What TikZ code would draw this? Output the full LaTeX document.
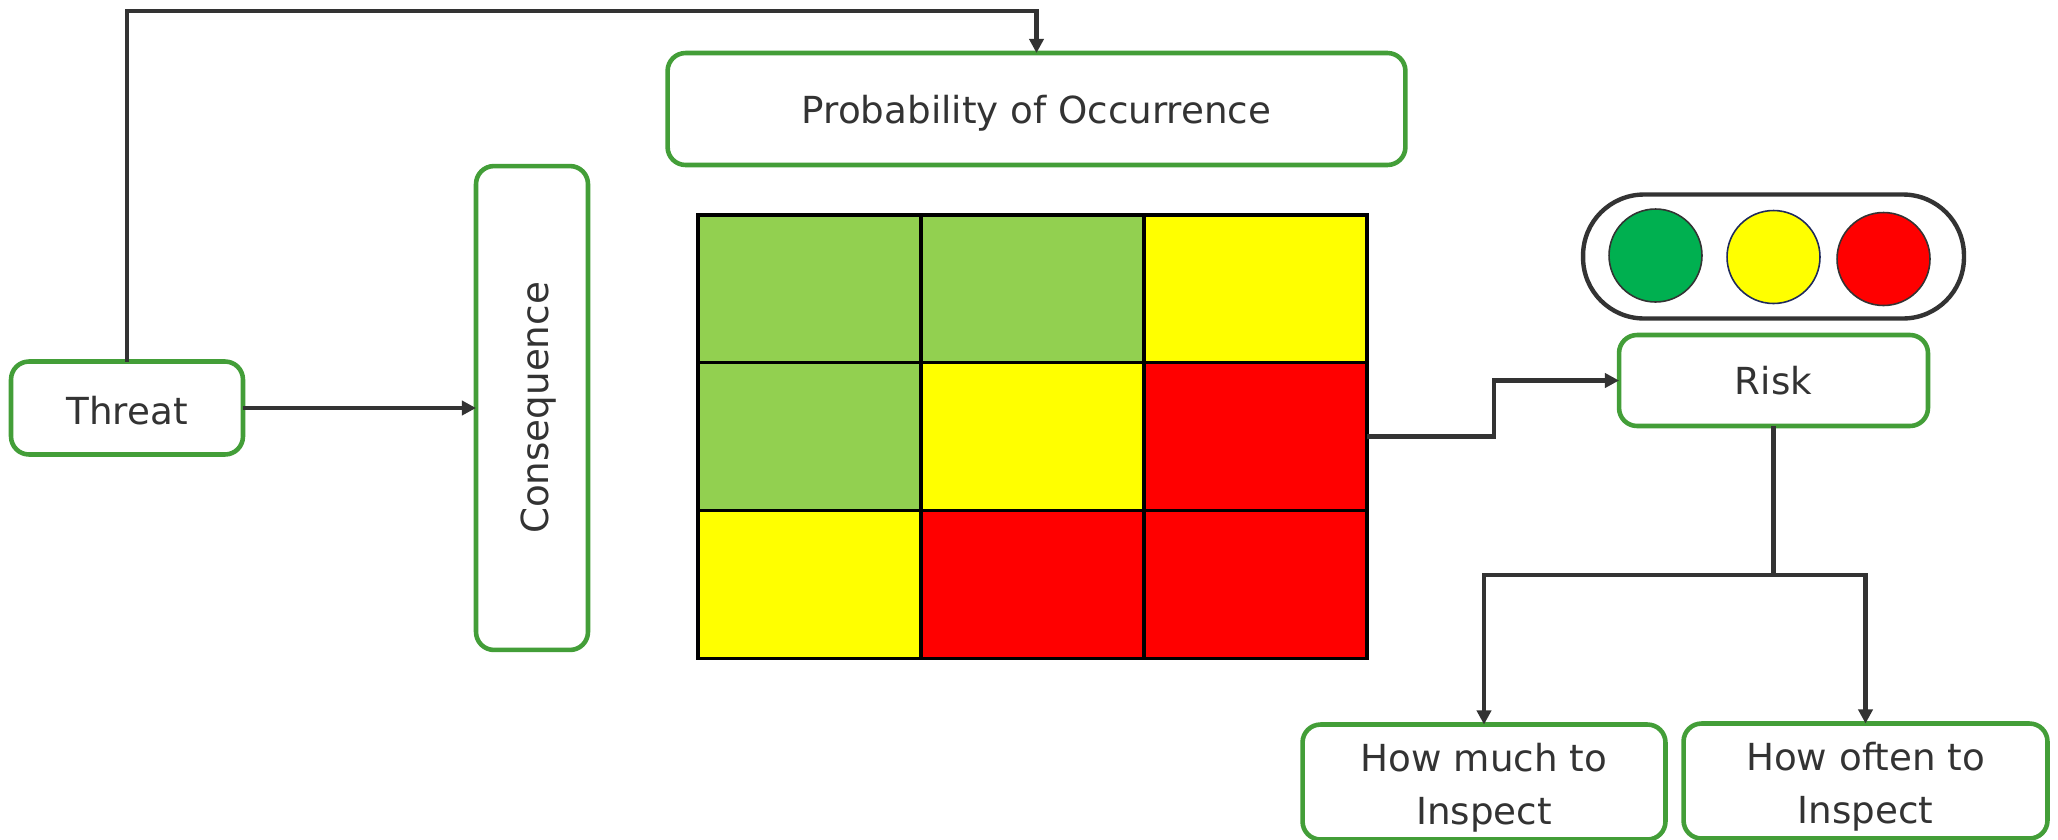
\documentclass[tikz,border=0pt]{standalone}
\usepackage{fontspec}
\setmainfont{DejaVu Sans}
\usetikzlibrary{arrows.meta}
\definecolor{boxgreen}{HTML}{439E38}
\definecolor{inkgray}{HTML}{333333}
\definecolor{cellgreen}{HTML}{92D050}
\definecolor{cellyellow}{HTML}{FFFF00}
\definecolor{cellred}{HTML}{FF0000}
\definecolor{lampgreen}{HTML}{00B050}
\definecolor{lampnavy}{HTML}{1F2A5C}

\begin{document}
\begin{tikzpicture}[
  x=0.02cm, y=-0.02cm,
  font=\fontsize{21.2}{30}\selectfont,
  box/.style   = {draw=boxgreen, line width=2.6pt, rounded corners=0.36cm, fill=white,
                  text=inkgray, align=center, outer sep=0pt, inner sep=0pt},
  cell/.style  = {draw=black, line width=1.9pt, minimum width=4.46cm, minimum height=2.96cm,
                  inner sep=0pt, outer sep=0pt},
  lamp/.style  = {circle, draw=inkgray, line width=0.9pt, minimum size=1.86cm,
                  inner sep=0pt, outer sep=0pt},
  arr/.style   = {-{Triangle[length=8pt, width=8pt]}, line width=2.4pt, inkgray},
  wire/.style  = {line width=2.4pt, inkgray},
]
\useasboundingbox (0,0) rectangle (2058,839);

%%────────── boxes ───────────────────────────────
\node[box, minimum width=4.64cm, minimum height=1.86cm, text height=19pt] (threat) at (127,408) {Threat};
\node[box, rotate=90, minimum width=9.68cm, minimum height=2.24cm, text height=23.4pt] (conseq) at (532,408) {Consequence};
\node[box, minimum width=14.76cm, minimum height=2.24cm, text height=20.6pt] (prob) at (1036.5,109) {Probability of Occurrence};
\node[box, minimum width=6.18cm, minimum height=1.82cm] (risk) at (1773.5,380.5) {Risk};
\node[box, minimum width=7.26cm, minimum height=2.30cm, text height=53pt] (much) at (1484,782) {How much to\\Inspect};
\node[box, minimum width=7.28cm, minimum height=2.30cm, text height=52.5pt] (often) at (1865.5,781) {How often to\\Inspect};

%%────────── risk matrix ─────────────────────────
\node[cell, fill=cellgreen]  (c11) at (809.5,289)    {};
\node[cell, fill=cellgreen]  (c12) at (1032.5,289)   {};
\node[cell, fill=cellyellow] (c13) at (1255.5,289)   {};
\node[cell, fill=cellgreen]  (c21) at (809.5,436.5)  {};
\node[cell, fill=cellyellow] (c22) at (1032.5,436.5) {};
\node[cell, fill=cellred]    (c23) at (1255.5,436.5) {};
\node[cell, fill=cellyellow] (c31) at (809.5,584.5)  {};
\node[cell, fill=cellred]    (c32) at (1032.5,584.5) {};
\node[cell, fill=cellred]    (c33) at (1255.5,584.5) {};

%%────────── traffic light ───────────────────────
\node[draw=inkgray, line width=2.5pt, rounded corners=1.22cm, minimum width=7.62cm,
      minimum height=2.48cm, inner sep=0pt, outer sep=0pt] (light) at (1773.5,256.5) {};
\node[lamp, fill=lampgreen] (lgreen) at (1655.5,255.5) {};
\node[lamp, fill=cellyellow, draw=lampnavy] (lyellow) at (1773.5,257) {};
\node[lamp, fill=cellred] (lred) at (1883.5,259) {};

%%────────── connectors ──────────────────────────
\coordinate (topturn)   at (127,11);
\coordinate (riskturn)  at (1494,436.5);
\coordinate (splitturn) at (1773.5,575);

\draw[arr] (threat.north) -- (topturn) -| (prob.north);
\draw[arr] (threat.east) -- (conseq.north);
\draw[arr] (c23.east) -- (riskturn) |- (risk.west);
\draw[wire] (risk.south) -- (splitturn);
\draw[arr] (splitturn) -| (much.north);
\draw[arr] (splitturn) -| (often.north);

\end{tikzpicture}
\end{document}
